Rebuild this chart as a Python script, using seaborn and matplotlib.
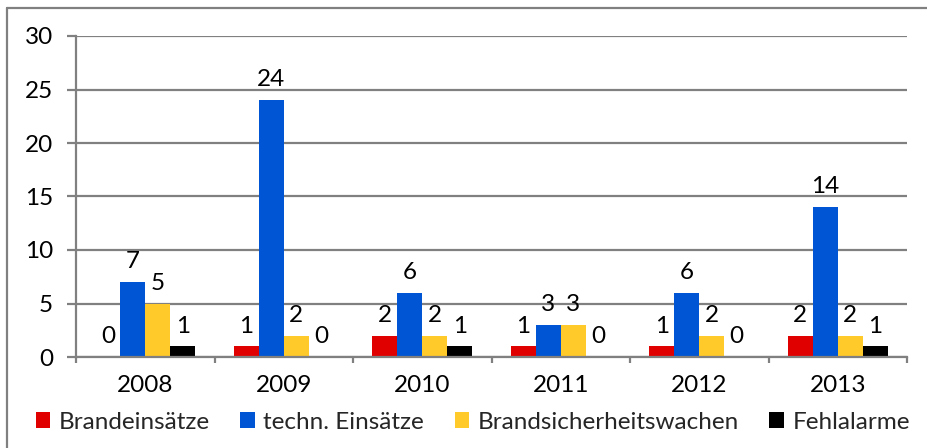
import matplotlib
matplotlib.use("Agg")
import matplotlib.pyplot as plt
import seaborn as sns
import pandas as pd
from matplotlib.lines import Line2D
from matplotlib.patches import Patch

years = ["2008", "2009", "2010", "2011", "2012", "2013"]
series = ["Brandeinsätze", "techn. Einsätze", "Brandsicherheitswachen", "Fehlalarme"]
brand = [0, 1, 2, 1, 1, 2]
techn = [7, 24, 6, 3, 6, 14]
wachen = [5, 2, 2, 3, 2, 2]
fehl = [1, 0, 1, 0, 0, 1]
colors = ["#E00000", "#0055D4", "#FFCA2A", "#000000"]

rows = []
for name, vals in zip(series, [brand, techn, wachen, fehl]):
    for y, v in zip(years, vals):
        rows.append({"Jahr": y, "Serie": name, "Wert": v})
df = pd.DataFrame(rows)

sns.set_theme(style="white")
plt.rcParams["font.family"] = ["Lato", "DejaVu Sans"]
FS = 17.5

fig = plt.figure(figsize=(9.27, 4.48), dpi=100)
ax = fig.add_axes([76 / 927, 1 - 357 / 448, (907 - 76) / 927, (357 - 36) / 448])

sns.barplot(data=df, x="Jahr", y="Wert", hue="Serie", hue_order=series,
            order=years, palette=colors, width=0.72, gap=0, ax=ax,
            saturation=1, linewidth=0, legend=False, errorbar=None)

ax.set_ylim(0, 30)
ax.set_xlim(-0.5, len(years) - 0.5)
ax.set_yticks(range(0, 31, 5))
ax.set_xlabel("")
ax.set_ylabel("")
ax.yaxis.grid(True, color="#808080", linewidth=1.6)
ax.set_axisbelow(True)
for s in ["top", "right"]:
    ax.spines[s].set_visible(False)
for s in ["left", "bottom"]:
    ax.spines[s].set_color("#808080")
    ax.spines[s].set_linewidth(1.6)

ax.tick_params(axis="y", which="major", left=True, length=6.5, width=1.6,
               color="#808080", pad=10, labelsize=FS, labelcolor="black")
ax.tick_params(axis="x", which="major", bottom=False, length=0, pad=13,
               labelsize=FS, labelcolor="black")
ax.set_xticks([i - 0.5 for i in range(len(years) + 1)], minor=True)
ax.tick_params(axis="x", which="minor", bottom=True, length=4.5, width=1.6,
               color="#808080")

for cont in ax.containers:
    ax.bar_label(cont, labels=[f"{int(b.get_height())}" for b in cont],
                 padding=7, fontsize=FS, color="black")

handles = [Patch(facecolor=c, edgecolor="none") for c in colors]
fig.legend(handles, series, loc="center", bbox_to_anchor=(0.51, 1 - 422 / 448),
           ncol=4, frameon=False, fontsize=FS, handlelength=0.6,
           handleheight=0.6, handletextpad=0.35, columnspacing=1.25,
           borderaxespad=0)

fig.add_artist(Line2D([7 / 927, 7 / 927], [0, 1 - 8 / 448], transform=fig.transFigure,
                      color="#808080", linewidth=1.6))
fig.add_artist(Line2D([7 / 927, 1], [1 - 8 / 448, 1 - 8 / 448], transform=fig.transFigure,
                      color="#808080", linewidth=1.6))

fig.savefig("out.png", dpi=100, facecolor="white")
